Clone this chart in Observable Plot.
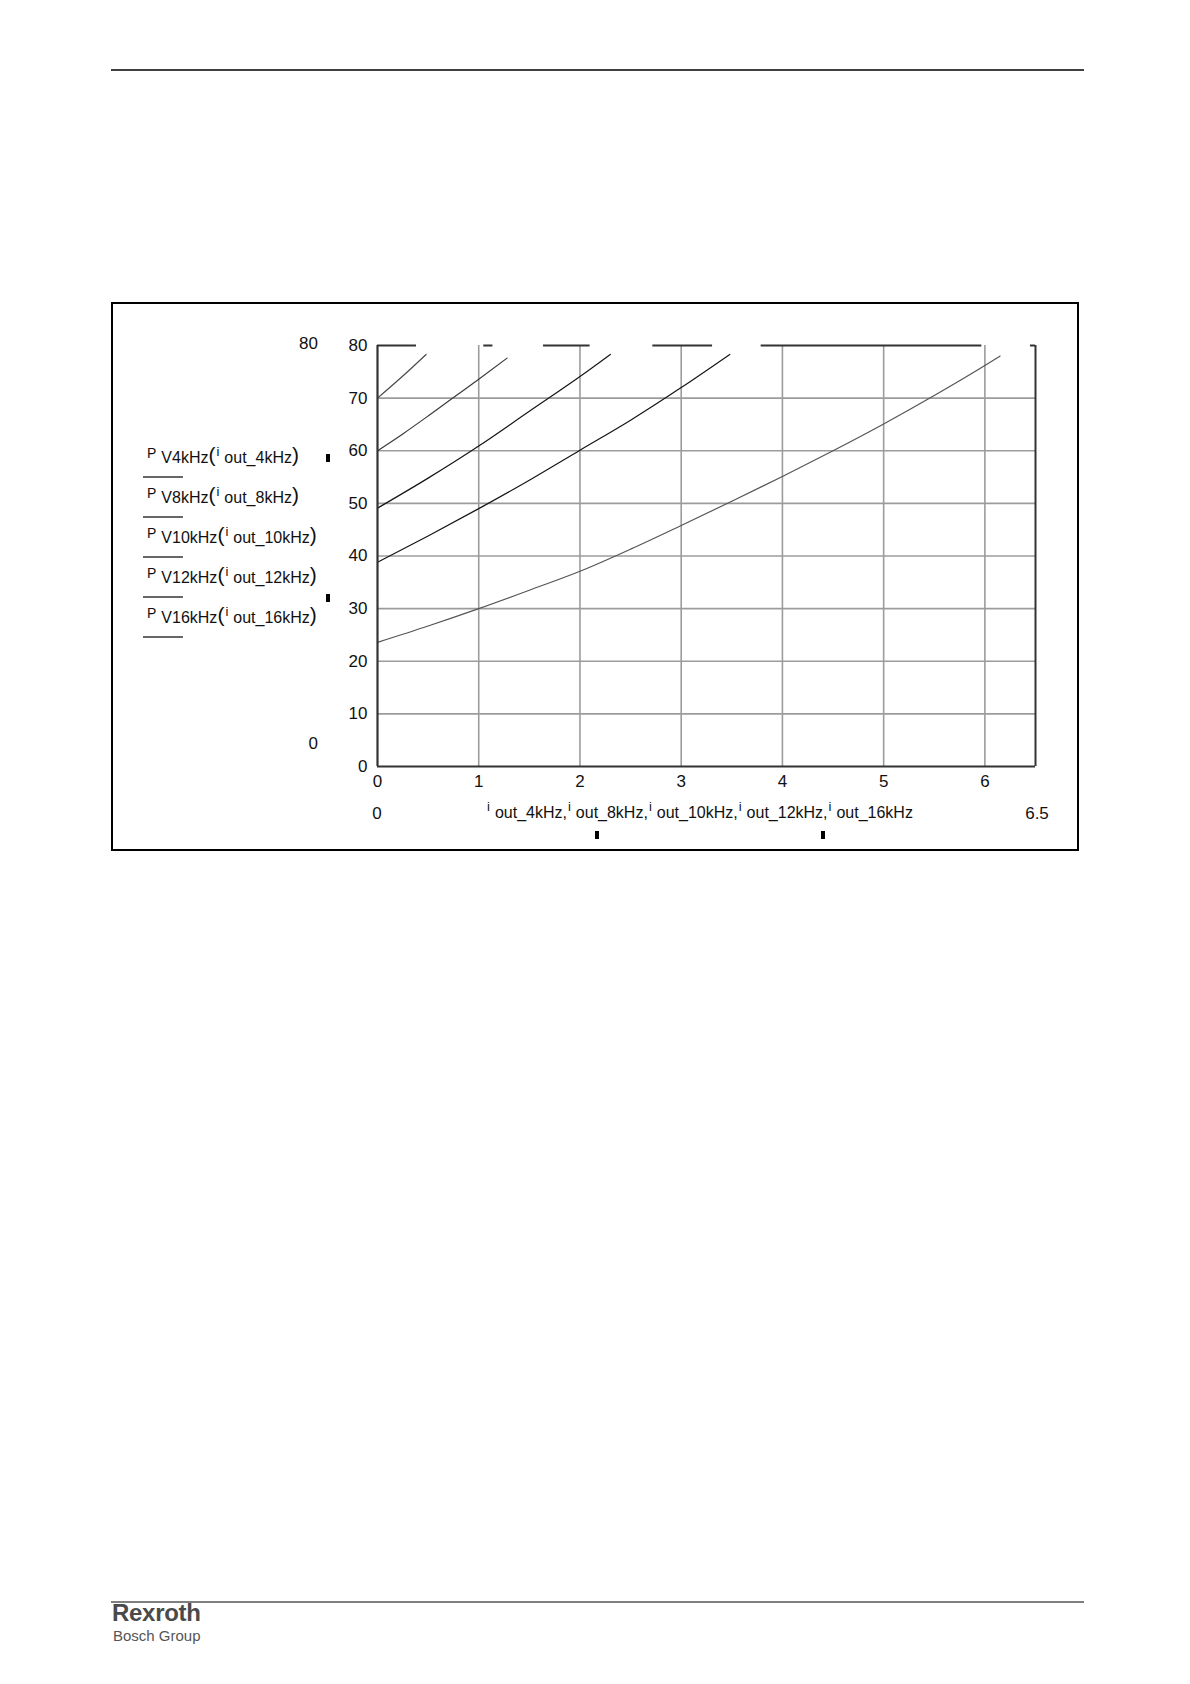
<!DOCTYPE html>
<html>
<head>
<meta charset="utf-8">
<script src="https://cdn.jsdelivr.net/npm/d3@7"></script>
<script src="https://cdn.jsdelivr.net/npm/@observablehq/plot@0.6"></script>
<style>
  html, body { margin: 0; padding: 0; background: #fff; }
  #page { position: relative; width: 1190px; height: 1684px; background: #fff; overflow: hidden; }
  #box { position: absolute; left: 111px; top: 302px; width: 968px; height: 549px; box-sizing: border-box; border: 2px solid #000; }
  #chart { position: absolute; left: 111px; top: 302px; }
  #overlay { position: absolute; left: 0; top: 0; }
</style>
</head>
<body>
<div id="page">
  <div id="box"></div>
  <div id="chart"></div>
  <svg id="overlay" width="1190" height="1684"></svg>
</div>
<script>
// ---- data ----
const freqs = ["4kHz", "8kHz", "10kHz", "12kHz", "16kHz"];

const i4  = [0, 0.25, 0.48];
const p4  = [70, 74.2, 78.3];

const i8  = [0, 0.25, 0.5, 0.75, 1.0, 1.28];
const p8  = [60, 63.2, 66.6, 70.1, 73.6, 77.6];

const i10 = [0, 0.5, 1.0, 1.5, 2.0, 2.3];
const p10 = [49.1, 54.8, 60.9, 67.5, 74.1, 78.3];

const i12 = [0, 0.5, 1.0, 1.5, 2.0, 2.5, 3.0, 3.48];
const p12 = [38.8, 43.8, 49.0, 54.4, 60.1, 65.8, 72.0, 78.3];

const i16 = [0, 0.5, 1.0, 1.5, 2.0, 2.5, 3.0, 3.5, 4.0, 4.5, 5.0, 5.5, 6.0, 6.15];
const p16 = [23.6, 26.7, 30.0, 33.5, 37.1, 41.3, 45.8, 50.4, 55.1, 60.0, 65.1, 70.5, 76.2, 78.0];

const xTicks = [0, 1, 2, 3, 4, 5, 6];
const yTicks = [0, 10, 20, 30, 40, 50, 60, 70, 80];
const xGrid = [1, 2, 3, 4, 5, 6];
const yGrid = [10, 20, 30, 40, 50, 60, 70];
const xDomain = [0, 6.5];
const yDomain = [0, 80];
// pieces of the broken top border (x from, x to) at y = 80
const topStart = [0, 1.05, 1.64, 2.72, 3.79, 6.45];
const topEnd   = [0.385, 1.14, 2.10, 3.31, 5.97, 6.5];

const seriesI = [i4, i8, i10, i12, i16];
const seriesP = [p4, p8, p10, p12, p16];
const seriesColor = ["#4a4a4a", "#3a3a3a", "#151515", "#151515", "#555555"];

// build table for Plot
const rows = [];
freqs.forEach((f, k) => seriesI[k].forEach((v, j) => rows.push({f, i: v, p: seriesP[k][j]})));
const topSegs = topStart.map((s, j) => ({x1: s, x2: topEnd[j]}));

const FONT = "'Liberation Sans', Arial, Helvetica, sans-serif";

const chart = Plot.plot({
  width: 968,
  height: 549,
  marginLeft: 266,
  marginRight: 44,
  marginTop: 43,
  marginBottom: 85,
  x: {domain: xDomain},
  y: {domain: yDomain},
  style: {fontFamily: FONT, fontSize: "17px", color: "#111", background: "transparent", overflow: "visible"},
  marks: [
    Plot.ruleX(xGrid, {stroke: "#9c9c9c", strokeWidth: 1.6, strokeOpacity: 1}),
    Plot.ruleY(yGrid, {stroke: "#9c9c9c", strokeWidth: 1.6, strokeOpacity: 1}),
    Plot.ruleX([xDomain[1]], {stroke: "#333", strokeWidth: 2}),
    Plot.ruleY(topSegs, {y: () => yDomain[1], x1: "x1", x2: "x2", stroke: "#333", strokeWidth: 2}),
    ...freqs.map((f, k) => Plot.line(rows.filter(r => r.f === f), {
      x: "i", y: "p", stroke: seriesColor[k], strokeWidth: 1.2, curve: "monotone-x"
    })),
    Plot.ruleX([0], {stroke: "#333", strokeWidth: 2.2}),
    Plot.ruleY([0], {stroke: "#333", strokeWidth: 2.2}),
    Plot.axisX({ticks: xTicks, tickSize: 0, tickPadding: 8, tickFormat: d => String(d), label: null}),
    Plot.axisY({ticks: yTicks, tickSize: 0, tickPadding: 10, tickFormat: d => String(d), label: null})
  ]
});
document.getElementById("chart").appendChild(chart);

// ---- decorations: header / footer / MathCAD-style labels ----
const svg = d3.select("#overlay").style("font-family", FONT).attr("fill", "#111");

// header rule
svg.append("line").attr("x1", 111).attr("x2", 1084).attr("y1", 70).attr("y2", 70)
  .attr("stroke", "#000").attr("stroke-width", 1.5);
// footer rule
svg.append("line").attr("x1", 111).attr("x2", 1084).attr("y1", 1602).attr("y2", 1602)
  .attr("stroke", "#000").attr("stroke-width", 1.2);
svg.append("text").attr("x", 112).attr("y", 1621).attr("font-size", 24).attr("font-weight", "bold")
  .attr("fill", "#4a4a4a").attr("letter-spacing", "-0.3").text("Rexroth");
svg.append("text").attr("x", 113).attr("y", 1641).attr("font-size", 15)
  .attr("fill", "#555").text("Bosch Group");

// outer range labels
function label(x, y, t, anchor) {
  svg.append("text").attr("x", x).attr("y", y).attr("font-size", 17)
    .attr("text-anchor", anchor).attr("dominant-baseline", "central").text(t);
}
label(318, 343, "80", "end");
label(318, 743, "0", "end");
label(377, 813, "0", "middle");
label(1037, 813, "6.5", "middle");

// y legend (function names)
freqs.forEach((f, k) => {
  const base = 463 + 40 * k;
  const t = svg.append("text").attr("x", 147).attr("y", base);
  t.append("tspan").attr("font-size", 14).attr("y", base - 5).text("P");
  t.append("tspan").attr("font-size", 16).attr("y", base).attr("dx", 5).text("V" + f);
  t.append("tspan").attr("font-size", 21).attr("y", base - 1).text("(");
  t.append("tspan").attr("font-size", 13).attr("y", base - 7).attr("dx", 1).text("i");
  t.append("tspan").attr("font-size", 16).attr("y", base).attr("dx", 5).text("out_" + f);
  t.append("tspan").attr("font-size", 21).attr("y", base - 1).text(")");
  svg.append("line").attr("x1", 143).attr("x2", 183).attr("y1", base + 14).attr("y2", base + 14)
    .attr("stroke", "#333").attr("stroke-width", 1.5);
});

// x legend (argument names)
{
  const base = 818;
  const t = svg.append("text").attr("x", 487).attr("y", base);
  freqs.forEach((f, k) => {
    t.append("tspan").attr("font-size", 13).attr("y", base - 7).attr("dx", k === 0 ? 0 : 1).text("i");
    t.append("tspan").attr("font-size", 16).attr("y", base).attr("dx", 5).text("out_" + f + (k < freqs.length - 1 ? "," : ""));
  });
}

// small MathCAD placeholder marks
[[326, 454], [326, 594], [595, 831], [821, 831]].forEach(([x, y]) => {
  svg.append("rect").attr("x", x).attr("y", y).attr("width", 4).attr("height", 8).attr("fill", "#000");
});
</script>
</body>
</html>
